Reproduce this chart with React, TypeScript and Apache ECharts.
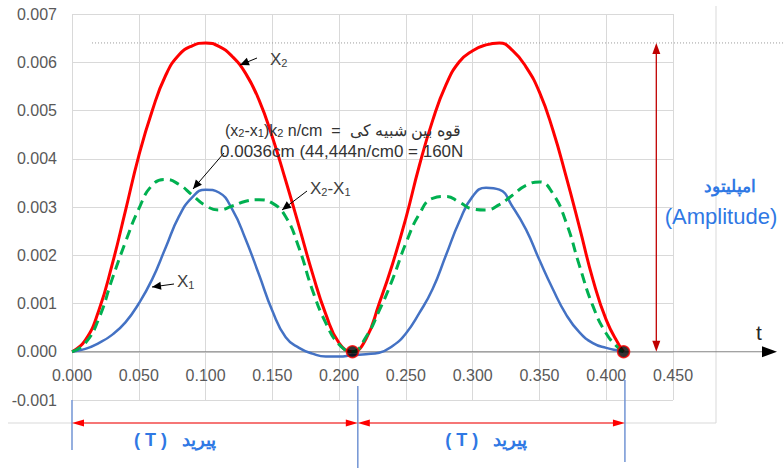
import React, { useEffect, useRef } from "react";
import * as echarts from "echarts";

// time samples (s)
const time = [
  0, 0.01, 0.02, 0.03, 0.04, 0.05, 0.06, 0.07, 0.08, 0.09, 0.1, 0.11, 0.12, 0.13, 0.14, 0.15, 0.16, 0.17, 0.18, 0.19, 0.2, 0.21,
  0.22, 0.23, 0.24, 0.25, 0.26, 0.27, 0.28, 0.29, 0.3, 0.31, 0.32, 0.33, 0.34, 0.35, 0.36, 0.37, 0.38, 0.39, 0.4, 0.41, 0.413,
];
// X2 (red)
const x2 = [
  0, 0.00024, 0.00085, 0.0018, 0.00292, 0.00406, 0.00499, 0.00572, 0.00615, 0.00634, 0.0064, 0.00633, 0.00612, 0.00577, 0.00522, 0.00445, 0.00355, 0.0026, 0.00163, 0.00078, 0.00018, 0,
  0.00026, 0.001, 0.00182, 0.00277, 0.00385, 0.00479, 0.00553, 0.00601, 0.00624, 0.00636, 0.0064, 0.00624, 0.0059, 0.00538, 0.0046, 0.00363, 0.00258, 0.0015, 0.00066, 0.00012, 0,
];
// X1 (blue)
const x1 = [
  0, 0.00006, 0.00018, 0.00035, 0.00061, 0.001, 0.0015, 0.00215, 0.0028, 0.0032, 0.00336, 0.0033, 0.00295, 0.00233, 0.0016, 0.00085, 0.0003, 0.00008, -0.00004, -0.0001, -0.0001, -0.00007,
  -0.00005, -0.00002, 0.00012, 0.00038, 0.0008, 0.0013, 0.002, 0.0027, 0.00322, 0.0034, 0.00336, 0.003, 0.00253, 0.0019, 0.0013, 0.00077, 0.0004, 0.00018, 0.00008, 0.00002, 0,
];
// X2 - X1 (green dashed)
const diff = [
  0, 0.00018, 0.00068, 0.0015, 0.00227, 0.00296, 0.00345, 0.00357, 0.00347, 0.00325, 0.00303, 0.00294, 0.00302, 0.00312, 0.00315, 0.00308, 0.0028, 0.00215, 0.00128, 0.0006, 0.00015, 0,
  0.0003, 0.00085, 0.0015, 0.00225, 0.00285, 0.00318, 0.00322, 0.0031, 0.00296, 0.00294, 0.00305, 0.00325, 0.00345, 0.00352, 0.00328, 0.00268, 0.00178, 0.00095, 0.00038, 0.00005, 0,
];
// zero-crossing points (end of each period)
const periodPoints = [
  [0.21, 0],
  [0.413, 0],
];
const periodBounds = [0, 0.214, 0.414];
const amplitudeT = 0.4375;
const amplitudeValue = 0.0064;

const FONT = "Liberation Sans, Arial, sans-serif";
const BLUE_TXT = "#2f78e4";

function head(x1: number, y1: number, x2: number, y2: number, L: number, W: number, color: string) {
  const dx = x2 - x1;
  const dy = y2 - y1;
  const len = Math.hypot(dx, dy) || 1;
  const ux = dx / len;
  const uy = dy / len;
  const bx = x2 - ux * L;
  const by = y2 - uy * L;
  return {
    type: "polygon",
    z: 110,
    shape: { points: [[x2, y2], [bx - uy * W, by + ux * W], [bx + uy * W, by - ux * W]] },
    style: { fill: color },
  };
}
function line(x1: number, y1: number, x2: number, y2: number, color: string, w: number, dash?: number[], z = 105) {
  return {
    type: "line",
    z,
    shape: { x1, y1, x2, y2 },
    style: { stroke: color, lineWidth: w, lineDash: dash },
  };
}
function arrow(x1: number, y1: number, x2: number, y2: number, color: string, w: number, L = 9, W = 4) {
  return [line(x1, y1, x2, y2, color, w), head(x1, y1, x2, y2, L, W, color)];
}

const subRich = {
  m: { fontSize: 17, fontFamily: FONT, fill: "#404040", lineHeight: 18, verticalAlign: "middle" },
  s: { fontSize: 11, fontFamily: FONT, fill: "#404040", lineHeight: 8, verticalAlign: "bottom" },
};
const noteRich = {
  m: { fontSize: 16, fontFamily: FONT, fill: "#333333", lineHeight: 17, verticalAlign: "middle" },
  s: { fontSize: 11, fontFamily: FONT, fill: "#333333", lineHeight: 7, verticalAlign: "bottom" },
};

export default function App() {
  const ref = useRef<HTMLDivElement>(null);
  useEffect(() => {
    if (!ref.current) return;
    const chart = echarts.init(ref.current, undefined, { renderer: "svg" });
    const pts = (ys: number[]) => time.map((t, i) => [t, ys[i]]);
    chart.setOption({
      animation: false,
      backgroundColor: "#ffffff",
      grid: { left: 72, top: 14, width: 601, height: 386, containLabel: false },
      xAxis: {
        type: "value",
        min: 0,
        max: 0.45,
        interval: 0.05,
        axisLine: { show: false },
        axisTick: { show: false },
        axisLabel: {
          formatter: (v: number) => v.toFixed(3),
          color: "#595959",
          fontSize: 16,
          fontFamily: FONT,
          margin: -33,
        },
        splitLine: { show: true, lineStyle: { color: "#d9d9d9", width: 1 } },
      },
      yAxis: {
        type: "value",
        min: -0.001,
        max: 0.007,
        interval: 0.001,
        axisLine: { show: false, onZero: false },
        axisTick: { show: false },
        axisLabel: {
          formatter: (v: number) => v.toFixed(3),
          color: "#595959",
          fontSize: 16,
          fontFamily: FONT,
          margin: 15,
        },
        splitLine: { show: true, lineStyle: { color: "#d9d9d9", width: 1 } },
      },
      series: [
        {
          name: "X1",
          type: "line",
          data: pts(x1),
          smooth: 0.5,
          showSymbol: false,
          lineStyle: { color: "#4472c4", width: 2.5 },
          z: 2,
        },
        {
          name: "X2",
          type: "line",
          data: pts(x2),
          smooth: 0.5,
          showSymbol: false,
          lineStyle: { color: "#ff0000", width: 3 },
          z: 3,
        },
        {
          name: "X2-X1",
          type: "line",
          data: pts(diff),
          smooth: 0.5,
          showSymbol: false,
          lineStyle: { color: "#00b050", width: 3, type: [10, 6] },
          z: 4,
        },
        {
          name: "T",
          type: "scatter",
          data: periodPoints,
          symbolSize: 12,
          itemStyle: { color: "#000000", borderColor: "#ff0000", borderWidth: 1.5 },
          z: 5,
        },
      ],
    });

    const px = (x: number, y: number) => chart.convertToPixel({ gridIndex: 0 }, [x, y]) as number[];
    const zero = px(0, 0);
    const yZero = zero[1];
    const gridBottom = px(0, -0.001)[1];
    const gridRight = px(0.45, 0)[0];
    const ampTop = px(amplitudeT, amplitudeValue);
    const boxRight = gridRight + 43;
    const boxBottom = gridBottom + 23;
    const arrowY = boxBottom;
    const pb = periodBounds.map((t) => px(t, 0)[0]);
    const red = "#ff0000";
    const dark = "#c00000";
    const blueLine = "#7294d4";

    const graphic: any[] = [
      // outer light frame
      line(boxRight, 6, boxRight, boxBottom, "#d9d9d9", 1, undefined, 0),
      line(8, boxBottom, boxRight, boxBottom, "#d9d9d9", 1, undefined, 0),
      // t axis (through zero) with arrow
      line(zero[0], yZero, 766, yZero, "#858585", 1, undefined, 0),
      head(gridRight, yZero, 777, yZero, 15, 5.5, "#000000"),
      {
        type: "text",
        z: 110,
        x: 759,
        y: yZero - 19,
        style: { text: "t", fontSize: 21, fontFamily: FONT, fill: "#262626", align: "center", verticalAlign: "middle" },
      },
      // dotted amplitude level
      line(px(0.015, 0)[0], ampTop[1], 784, ampTop[1], "#9a9a9a", 1, [1, 2], 0),
      // amplitude double arrow
      line(ampTop[0], ampTop[1] + 8, ampTop[0], yZero - 8, dark, 1.3),
      head(ampTop[0], yZero, ampTop[0], ampTop[1], 11, 4, dark),
      head(ampTop[0], ampTop[1], ampTop[0], yZero, 11, 4, dark),
      {
        type: "text",
        z: 110,
        x: 730,
        y: 186,
        style: { text: "امپلیتود", fontSize: 17, fontWeight: "bold", fontFamily: FONT, fill: BLUE_TXT, align: "center", verticalAlign: "middle" },
      },
      {
        type: "text",
        z: 110,
        x: 721,
        y: 216,
        style: { text: "(Amplitude)", fontSize: 22, fontFamily: FONT, fill: BLUE_TXT, align: "center", verticalAlign: "middle" },
      },
      // period boundary lines
      line(pb[0], gridBottom, pb[0], 450, blueLine, 1.5),
      line(pb[1], 386, pb[1], 468, blueLine, 1.5),
      line(pb[2], 380, pb[2], 462, blueLine, 1.5),
      // period arrows
      line(pb[0] + 6, arrowY, pb[1] - 6, arrowY, red, 1),
      head(pb[1], arrowY, pb[0], arrowY, 12, 3.5, red),
      head(pb[0], arrowY, pb[1], arrowY, 12, 3.5, red),
      line(pb[1] + 6, arrowY, pb[2] - 6, arrowY, red, 1),
      head(pb[2], arrowY, pb[1], arrowY, 12, 3.5, red),
      head(pb[1], arrowY, pb[2], arrowY, 12, 3.5, red),
      {
        type: "text",
        z: 110,
        x: (pb[0] + pb[1]) / 2 - 40,
        y: 440,
        style: { text: "( T )   پیرید", fontSize: 18, fontWeight: "bold", fontFamily: FONT, fill: BLUE_TXT, align: "center", verticalAlign: "middle" },
      },
      {
        type: "text",
        z: 110,
        x: (pb[1] + pb[2]) / 2 - 5,
        y: 440,
        style: { text: "( T )   پیرید", fontSize: 18, fontWeight: "bold", fontFamily: FONT, fill: BLUE_TXT, align: "center", verticalAlign: "middle" },
      },
      // curve labels
      ...arrow(257, 58, 240, 65, "#000000", 1),
      {
        type: "text",
        z: 110,
        x: 270,
        y: 59,
        style: { text: "{m|X}{s|2}", rich: subRich, align: "left", verticalAlign: "middle" },
      },
      ...arrow(174, 284, 152, 287, "#000000", 1),
      {
        type: "text",
        z: 110,
        x: 177,
        y: 281,
        style: { text: "{m|X}{s|1}", rich: subRich, align: "left", verticalAlign: "middle" },
      },
      ...arrow(307, 191, 282, 210, "#000000", 1),
      {
        type: "text",
        z: 110,
        x: 310,
        y: 188,
        style: { text: "{m|X}{s|2}{m|-X}{s|1}", rich: subRich, align: "left", verticalAlign: "middle" },
      },
      // note
      ...arrow(224, 153, 193, 189, "#000000", 1),
      {
        type: "text",
        z: 110,
        x: 225,
        y: 130,
        style: {
          text: "{m|(x}{s|2}{m|-x}{s|1}{m|)k}{s|2}{m| n/cm  =  }{m|قوه بین شبیه کی}",
          rich: noteRich,
          align: "left",
          verticalAlign: "middle",
        },
      },
      {
        type: "text",
        z: 110,
        x: 220,
        y: 151,
        style: { text: "0.0036cm (44,444n/cm0 = 160N", fontSize: 17, fontFamily: FONT, fill: "#333333", align: "left", verticalAlign: "middle" },
      },
    ];
    chart.setOption({ graphic });
    return () => chart.dispose();
  }, []);
  return <div ref={ref} style={{ position: "absolute", left: 0, top: 0, width: 784, height: 468 }} />;
}
